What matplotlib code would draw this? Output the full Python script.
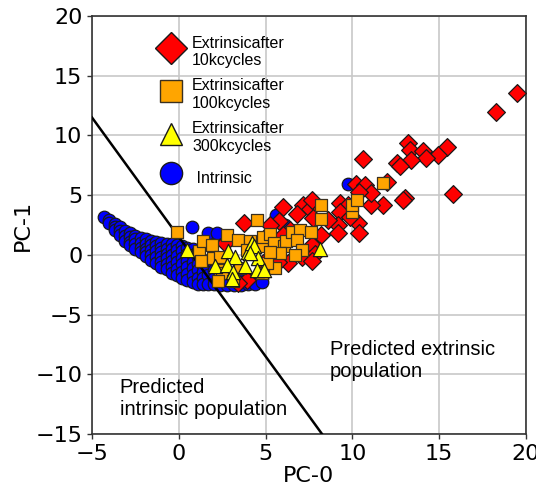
import matplotlib
matplotlib.use("Agg")
import matplotlib.pyplot as plt
from matplotlib.lines import Line2D

# ---------------- data ----------------
intrinsic_x = [
    -4.3,
    -4.0, -4.0,
    -3.7, -3.7, -3.7,
    -3.4, -3.4, -3.4,
    -3.1, -3.1, -3.1,
    -2.8, -2.8, -2.8, -2.8,
    -2.5, -2.5, -2.5, -2.5,
    -2.2, -2.2, -2.2, -2.2,
    -1.9, -1.9, -1.9, -1.9, -1.9,
    -1.6, -1.6, -1.6, -1.6, -1.6,
    -1.3, -1.3, -1.3, -1.3, -1.3,
    -1.0, -1.0, -1.0, -1.0, -1.0, -1.0,
    -0.7, -0.7, -0.7, -0.7, -0.7, -0.7,
    -0.4, -0.4, -0.4, -0.4, -0.4, -0.4,
    -0.1, -0.1, -0.1, -0.1, -0.1, -0.1,
    0.2, 0.2, 0.2, 0.2, 0.2, 0.2,
    0.5, 0.5, 0.5, 0.5, 0.5, 0.5,
    0.8, 0.8, 0.8, 0.8, 0.8, 0.8,
    1.1, 1.1, 1.1, 1.1, 1.1, 1.1,
    1.4, 1.4, 1.4, 1.4, 1.4,
    1.7, 1.7, 1.7, 1.7,
    2.0, 2.0, 2.0, 2.0,
    2.4, 2.4, 2.4, 2.4,
    2.8, 2.8, 2.8,
    3.2, 3.2, 3.2,
    3.6, 3.6, 3.6,
    4.0, 4.0,
    4.4, 4.4,
    4.8, 4.8,
    0.74, 1.7, 2.18, 5.6, 6.12, 9.73,
]
intrinsic_y = [
    3.2,
    2.9, 2.7,
    2.6, 2.3, 2.1,
    2.3, 2.0, 1.7,
    2.0, 1.6, 1.2,
    1.8, 1.5, 1.1, 0.8,
    1.6, 1.3, 0.9, 0.5,
    1.4, 1.0, 0.6, 0.2,
    1.3, 0.9, 0.5, 0.2, -0.1,
    1.2, 0.8, 0.4, 0.0, -0.4,
    1.1, 0.7, 0.3, -0.2, -0.7,
    1.0, 0.6, 0.2, -0.2, -0.6, -1.0,
    0.9, 0.5, 0.1, -0.3, -0.8, -1.2,
    0.9, 0.5, 0.0, -0.5, -1.0, -1.5,
    0.8, 0.4, -0.1, -0.6, -1.2, -1.7,
    0.7, 0.3, -0.3, -0.8, -1.4, -1.9,
    0.6, 0.1, -0.5, -1.0, -1.6, -2.1,
    0.5, 0.0, -0.6, -1.1, -1.7, -2.3,
    0.3, -0.2, -0.8, -1.3, -1.9, -2.4,
    -0.4, -0.9, -1.4, -1.9, -2.4,
    -0.6, -1.1, -1.7, -2.4,
    -0.8, -1.3, -1.9, -2.4,
    -1.0, -1.5, -2.0, -2.5,
    -1.6, -2.1, -2.5,
    -1.7, -2.2, -2.5,
    -1.8, -2.3, -2.5,
    -2.0, -2.4,
    -2.0, -2.4,
    -1.9, -2.3,
    2.3, 1.8, 1.8, 3.35, 2.51, 5.92,
]

ext10k_x = [19.46, 18.25, 13.22, 13.34, 14.08, 15.43, 14.91, 14.22, 13.38, 12.55,
            12.74, 10.6, 15.81, 13.03, 11.78, 11.07, 11.97, 10.2, 10.7, 11.1,
            10.4, 12.93, 9.3, 9.76, 9.29, 10.3, 10.36, 9.15, 9.17, 9.86,
            8.61, 8.2, 7.6, 7.17, 7.56, 7.75, 6.79, 6.0, 5.8, 5.25,
            3.76, 6.4, 6.02, 7.65, 7.85, 7.08, 7.65, 6.31, 5.73, 4.87,
            2.66, 3.91, 3.43, 7.65]
ext10k_y = [13.55, 12.0, 9.36, 8.8, 8.7, 9.0, 8.38, 8.15, 7.96, 7.68,
            7.45, 8.0, 5.1, 4.75, 4.19, 4.15, 6.1, 5.93, 5.86, 5.15,
            5.3, 4.6, 4.35, 4.19, 3.57, 2.65, 1.8, 2.5, 1.86, 3.2,
            2.93, 1.63, 4.3, 4.19, 3.8, 3.1, 3.45, 4.0, 2.86, 2.51,
            2.7, 2.09, 1.7, 0.84, 0.08, -0.2, -0.5, -0.65, -0.56, -0.7,
            0.98, -2.09, -2.37, 4.6]

ext100k_x = [-0.12, 1.15, 1.41, 1.89, 2.76, 3.43, 4.1, 3.91, 4.49, 4.77,
             1.3, 1.99, 2.37, 2.37, 2.47, 3.53, 3.14, 2.28, 4.77, 5.54,
             5.06, 5.2, 4.87, 5.25, 5.5, 6.08, 6.18, 6.5, 6.98, 6.83,
             7.62, 7.08, 5.83, 5.25, 6.69, 8.19, 8.21, 10.0, 9.96, 10.25,
             11.76]
ext100k_y = [1.9, 0.35, 1.12, 0.84, 1.68, 1.26, 1.12, 0.42, 2.93, 0.7,
             -0.5, -0.3, -0.14, -1.26, -1.53, -1.12, -2.15, -2.23, -1.53, -1.08,
             -0.7, 1.59, 1.53, 1.76, 0.98, 0.72, 1.12, 1.95, 2.12, 1.28,
             1.92, 0.4, 0.14, 0.28, 0.0, 4.16, 3.0, 3.6, 4.19, 4.63,
             6.0]

ext300k_x = [0.5, 2.85, 4.0, 4.23, 4.35, 3.24, 4.58, 4.1, 2.09, 2.76,
             3.14, 3.81, 4.49, 4.9, 3.04, 8.11]
ext300k_y = [0.42, 0.3, 0.28, 0.98, 0.78, -0.2, -0.28, 0.14, -0.9, -0.84,
             -1.45, -0.9, -1.26, -1.26, -2.0, 0.52]

boundary_x = [-5.0, 8.25]
boundary_y = [11.5, -15.0]

labels = ["Extrinsicafter\n10kcycles", "Extrinsicafter\n100kcycles",
          "Extrinsicafter\n300kcycles", " Intrinsic"]

# ---------------- plot ----------------
fig = plt.figure(figsize=(5.36, 4.90), dpi=100)
ax = fig.add_axes([92 / 536, 1 - 434 / 490, 434 / 536, 418 / 490])

s = 82
ec = "#1a1a1a"
ax.scatter(intrinsic_x, intrinsic_y, s=s, marker="o", c="blue",
           edgecolors=ec, linewidths=0.9, zorder=2)
ax.plot(boundary_x, boundary_y, color="black", lw=1.8, zorder=3)
ax.scatter(ext10k_x, ext10k_y, s=s, marker="D", c="red",
           edgecolors=ec, linewidths=0.9, zorder=4)
ax.scatter(ext100k_x, ext100k_y, s=s, marker="s", c="orange",
           edgecolors="#3a3020", linewidths=0.9, zorder=5)
ax.scatter(ext300k_x, ext300k_y, s=105, marker="^", c="yellow",
           edgecolors=ec, linewidths=0.9, zorder=6)

ax.set_xlim(-5, 20)
ax.set_ylim(-15, 20)
ax.set_xticks([-5, 0, 5, 10, 15, 20])
ax.set_yticks([-15, -10, -5, 0, 5, 10, 15, 20])
ax.tick_params(labelsize=16, length=3.5, width=1, color="#333333")
ax.grid(True, color="#c8c8c8", lw=1.2)
ax.set_axisbelow(True)
for sp in ax.spines.values():
    sp.set_color("#333333")
    sp.set_linewidth(1.2)

ax.set_xlabel("PC-0", fontsize=16, labelpad=2)
ax.set_ylabel("PC-1", fontsize=16, labelpad=2)

ax.text(8.7, -7.1, "Predicted extrinsic\npopulation", fontsize=14.5,
        family="Liberation Sans", va="top", ha="left")
ax.text(-3.4, -10.3, "Predicted\nintrinsic population", fontsize=14.5,
        family="Liberation Sans", va="top", ha="left")

handles = [
    Line2D([], [], ls="none", marker="D", ms=16, mfc="red", mec=ec, mew=1),
    Line2D([], [], ls="none", marker="s", ms=16, mfc="orange", mec="#3a3020", mew=1),
    Line2D([], [], ls="none", marker="^", ms=16, mfc="yellow", mec=ec, mew=1),
    Line2D([], [], ls="none", marker="o", ms=16, mfc="blue", mec=ec, mew=1),
]
ax.legend(handles, labels, loc="upper left", bbox_to_anchor=(0.12, 0.98),
          frameon=False, prop={"family": "Liberation Sans", "size": 11.5},
          handletextpad=0.3, labelspacing=0.65, handleheight=2.3,
          borderaxespad=0.3)

fig.savefig("out.png", dpi=100)
